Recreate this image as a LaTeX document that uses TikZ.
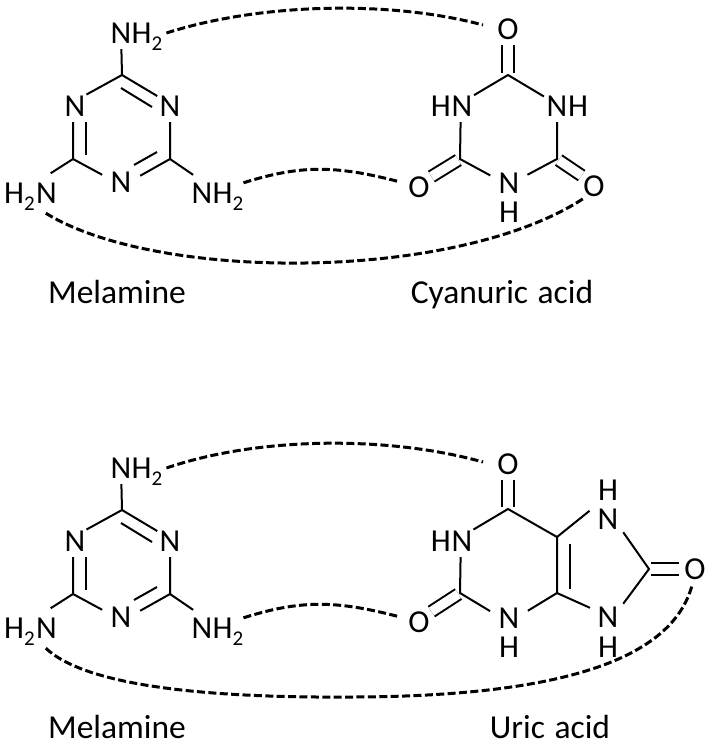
\documentclass[tikz,border=0pt]{standalone}
\usepackage{fontspec}
\setmainfont{Carlito}
\usetikzlibrary{positioning}

\newcommand{\subtwo}{{\fontsize{21}{21}\selectfont\raisebox{-7pt}{2}}}

\tikzset{
	atom/.style={circle,inner sep=0pt,minimum size=32pt,text height=20pt,text depth=0pt,font=\fontsize{32}{36}\selectfont},
	atomwide/.style={atom,minimum size=40pt},
	tail/.style={inner sep=0pt,text height=20pt,text depth=0pt,font=\fontsize{32}{36}\selectfont},
	title/.style={anchor=base,inner sep=0pt,font=\fontsize{33.5}{36}\selectfont},
	bond/.style={line width=2pt},
	dbond/.style={line width=2pt,double,double distance between line centers=11.5pt,shorten <=2pt},
	hbond/.style={line width=3pt,dash pattern=on 8pt off 3.4pt}
}

\begin{document}
\begin{tikzpicture}[x=1pt,y=-1pt]
	\useasboundingbox (0,0) rectangle (710,745);

	\foreach \dy/\m in {0/a,435/b}
	{
		\begin{scope}[shift={(0,\dy)}]
			\coordinate (\m c1) at (122,75);
			\coordinate (\m c2) at (73,159);
			\coordinate (\m c3) at (170,159);
			\node[atom] (\m n1) at (75,106) {N};
			\node[atom] (\m n2) at (170,106) {N};
			\node[atomwide] (\m n3) at (121,182) {N};
			\node[atom] (\m n4) at (121,33) {N};
			\node[atomwide] (\m n5) at (46.5,193) {N};
			\node[atomwide] (\m n6) at (202,193) {N};
			\node[tail,right=10.5pt of \m n4.center] (\m t4) {H\subtwo};
			\node[tail,left=11.5pt of \m n5.center] (\m t5) {H\subtwo};
			\node[tail,right=10.5pt of \m n6.center] (\m t6) {H\subtwo};
			\node[title] (\m name) at (117,303) {Melamine};

			\draw[bond] (\m n1.45) -- (\m c1) -- (\m n2.142);
			\draw[bond] (\m n1.263) -- (\m c2) -- (\m n3.159);
			\draw[bond] (\m n2.270) -- (\m c3) -- (\m n3.18);
			\draw[bond] (\m c1) -- (\m n4);
			\draw[bond] (\m c2) -- (\m n5.78);
			\draw[bond] (\m c3) -- (\m n6.116);

			\coordinate (\m i1) at (121,88);
			\coordinate (\m i2) at (152,107);
			\coordinate (\m i3) at (86,122);
			\coordinate (\m i4) at (86,155);
			\coordinate (\m i5) at (157,152);
			\coordinate (\m i6) at (134,165);
			\draw[bond] (\m i1) -- (\m i2);
			\draw[bond] (\m i3) -- (\m i4);
			\draw[bond] (\m i5) -- (\m i6);
		\end{scope}
	}

	\coordinate (c1) at (508,75);
	\coordinate (c2) at (460,159);
	\coordinate (c3) at (557,159);
	\node[atom] (o1) at (508,29) {O};
	\node[atom] (o2) at (419,187) {O};
	\node[atom] (o3) at (594,186) {O};
	\node[atom] (n1) at (462,106) {N};
	\node[atom] (n2) at (557,106) {N};
	\node[atomwide] (n3) at (509,183) {N};
	\node[tail,left=11pt of n1.center] (h1) {H};
	\node[tail,right=11pt of n2.center] (h2) {H};
	\node[tail] (h3) at (509,212) {H};
	\node[title] (cyanuric) at (502,303) {Cyanuric\hspace{2pt} acid};

	\draw[dbond] (c1) -- (o1);
	\draw[dbond] (c2) -- (o2.40);
	\draw[dbond] (c3) -- (o3.140);
	\draw[bond] (n1.42) -- (c1) -- (n2.144);
	\draw[bond] (n1.265) -- (c2) -- (n3.158);
	\draw[bond] (n2.270) -- (c3) -- (n3.24);

	\coordinate (uc1) at (508,509);
	\coordinate (uc2) at (460,593);
	\coordinate (uc3) at (557,537);
	\coordinate (uc4) at (557,593);
	\coordinate (uc5) at (649,569);
	\coordinate (ui1) at (570,544);
	\coordinate (ui2) at (570,589);
	\node[atom] (uo1) at (508,464) {O};
	\node[atom] (uo2) at (419,622) {O};
	\node[atom] (uo3) at (695,569) {O};
	\node[atom] (un1) at (462,541) {N};
	\node[atomwide] (un2) at (509,618) {N};
	\node[atomwide] (un3) at (608,519) {N};
	\node[atomwide] (un4) at (608,617) {N};
	\node[tail,left=11pt of un1.center] (uh1) {H};
	\node[tail] (uh2) at (509,647) {H};
	\node[tail] (uh3) at (608,490) {H};
	\node[tail] (uh4) at (608,647) {H};
	\node[title] (uric) at (550,738) {Uric\hspace{2pt} acid};

	\draw[dbond] (uc1) -- (uo1);
	\draw[dbond] (uc2) -- (uo2.40);
	\draw[dbond] (uc5) -- (uo3);
	\draw[bond] (un1.45) -- (uc1) -- (uc3) -- (uc4);
	\draw[bond] (un1.265) -- (uc2) -- (un2.160);
	\draw[bond] (uc4) -- (un2.21);
	\draw[bond] (uc3) -- (un3.156) (uc4) -- (un4.153);
	\draw[bond] (un3.-41) -- (uc5) -- (un4.41);
	\draw[bond] (ui1) -- (ui2);

	\draw[hbond] ([xshift=4pt]at4.east) .. controls (260,3) and (390,0) .. (483,25);
	\draw[hbond,shorten >=5pt] (at6.north east) .. controls (300,165) and (335,165) .. (o2.165);
	\draw[hbond] (an5.-92) .. controls (157,282) and (456,282) .. (o3.-130);
	\draw[hbond] ([xshift=4pt]bt4.east) .. controls (260,436) and (390,436) .. (483,462);
	\draw[hbond,shorten >=5pt] (bt6.north east) .. controls (300,600) and (335,600) .. (uo2.165);
	\draw[hbond] (bn5.-92) .. controls (90,690) and (230,698) .. (355,697) .. controls (560,696) and (672,660) .. (uo3.-100);
\end{tikzpicture}
\end{document}
